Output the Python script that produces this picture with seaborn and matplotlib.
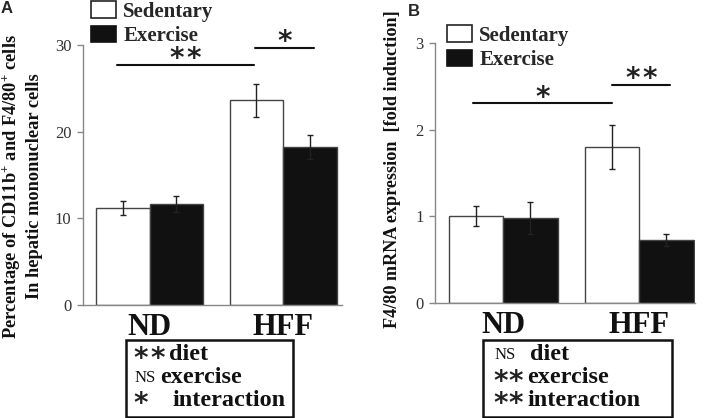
import numpy as np
import pandas as pd
import matplotlib
matplotlib.use("Agg")
import matplotlib.pyplot as plt
import matplotlib.transforms as mtransforms
import seaborn as sns
from matplotlib.patches import Patch, Rectangle

sns.set_theme(style="white")
plt.rcParams['font.family'] = ['Liberation Serif', 'DejaVu Sans']
plt.rcParams['mathtext.fontset'] = 'custom'
plt.rcParams['mathtext.rm'] = 'Liberation Serif'
plt.rcParams['mathtext.bf'] = 'Liberation Serif:bold'

# data
diets = ["ND", "HFF"]
groups = ["Sedentary", "Exercise"]

cells_mean = {"Sedentary": [11.2, 23.6], "Exercise": [11.65, 18.25]}
cells_err = {"Sedentary": [0.8, 1.9], "Exercise": [0.9, 1.4]}

mrna_mean = {"Sedentary": [1.0, 1.80], "Exercise": [0.98, 0.725]}
mrna_err = {"Sedentary": [0.115, 0.25], "Exercise": [0.19, 0.065]}

# significance brackets: (x0, x1, y, number of stars)
cells_sig = [(-0.24, 0.78, 27.7, 2), (0.79, 1.23, 29.7, 1)]
mrna_sig = [(-0.22, 0.80, 2.305, 1), (0.80, 1.23, 2.52, 2)]

# two-way ANOVA summary: (mark, term)
cells_stats = [("**", "diet"), ("NS", "exercise"), ("*", "interaction")]
mrna_stats = [("NS", "diet"), ("**", "exercise"), ("**", "interaction")]

cells_ylabel = ("Percentage of CD11b$^{\\mathbf{+}}$ and F4/80$^{\\mathbf{+}}$ cells\n"
                "In hepatic mononuclear cells")
mrna_ylabel = "F4/80 mRNA expression  [fold induction]"

W, H = 709, 418
fig = plt.figure(figsize=(W / 100, H / 100), dpi=100)

palette = {"Sedentary": "white", "Exercise": "#111111"}
STAR_SIZE = 20
STAR_EM = STAR_SIZE * 100 / 72.0


def fx(px):
    return px / W


def fy(py):
    return 1 - py / H


def stars(n, transform, x, y, spacing, dy_center):
    # draw n asterisks centred on x; glyph centre dy_center pixels above y
    base = dy_center - 0.47 * STAR_EM
    for k in range(n):
        dx = (k - (n - 1) / 2) * spacing
        tr = mtransforms.offset_copy(transform, fig, x=dx, y=base, units="dots")
        fig.text(x, y, "*", transform=tr, fontsize=STAR_SIZE,
                 family="DejaVu Sans", fontweight="bold", ha="center",
                 va="baseline", color="#222222")


def draw_panel(rect, means, errs, ylim, yticks, xmax, sig):
    ax = fig.add_axes(rect)
    df = pd.DataFrame({
        "diet": diets * 2,
        "group": [g for g in groups for _ in diets],
        "value": means["Sedentary"] + means["Exercise"],
    })
    sns.barplot(data=df, x="diet", y="value", hue="group", order=diets,
                hue_order=groups, palette=palette, edgecolor="#444444",
                linewidth=1, errorbar=None, width=0.8, legend=False, ax=ax)
    for cont, g in zip(ax.containers, groups):
        xs = [p.get_x() + p.get_width() / 2 for p in cont]
        ys = [p.get_height() for p in cont]
        ax.errorbar(xs, ys, yerr=errs[g], fmt="none", ecolor="#222222",
                    elinewidth=1, capsize=2.5, capthick=1)
    for x0, x1, y, n in sig:
        ax.plot([x0, x1], [y, y], color="#111111", lw=1.5, clip_on=False)
        stars(n, ax.transData, (x0 + x1) / 2, y, 17, 10.5)
    ax.set_ylim(*ylim)
    ax.set_xlim(-0.5, xmax)
    ax.set_yticks(yticks)
    ax.set_yticklabels([str(t) for t in yticks], fontsize=12, color="#333333")
    ax.set_xticks([0, 1])
    ax.set_xticklabels(diets, fontsize=22, fontweight="bold", color="#111111")
    ax.tick_params(axis="x", length=0, pad=6)
    ax.tick_params(axis="y", length=4, width=1, color="#888888", left=True, pad=4)
    for s in ["top", "right"]:
        ax.spines[s].set_visible(False)
    for s in ["left", "bottom"]:
        ax.spines[s].set_color("#888888")
        ax.spines[s].set_linewidth(1)
    ax.set_xlabel("")
    return ax


axA = draw_panel([fx(82.7), fy(305), fx(342 - 82.7), (305 - 45) / H],
                 cells_mean, cells_err, (0, 30), [0, 10, 20, 30], 1.44,
                 cells_sig)
axA.set_ylabel(cells_ylabel, fontsize=13.2, fontweight="bold",
               color="#111111", linespacing=1.26)
axA.yaxis.set_label_coords(-0.153, 0.457)

axB = draw_panel([fx(435), fy(302.7), fx(695 - 435), (302.7 - 43.3) / H],
                 mrna_mean, mrna_err, (0, 3), [0, 1, 2, 3], 1.41,
                 mrna_sig)
axB.set_ylabel(mrna_ylabel, fontsize=13.1, fontweight="bold", color="#111111")
axB.yaxis.set_label_coords(-0.13, 0.515)

handles = [Patch(facecolor="white", edgecolor="#222222", lw=1.2),
           Patch(facecolor="#111111", edgecolor="#111111", lw=1.2)]
for x0, y0 in [(91, 1), (447, 25)]:
    fig.legend(handles, groups, loc="upper left",
               bbox_to_anchor=(fx(x0), fy(y0)), frameon=False,
               prop={"weight": "bold", "size": 15}, handlelength=1.2,
               handleheight=0.85, handletextpad=0.35, labelspacing=0.2,
               borderpad=0, borderaxespad=0)


def stats_box(x0, x1, mark_x, word_xs, star_gap, stats):
    fig.patches.append(Rectangle((fx(x0), fy(417)), fx(x1 - x0), (417 - 340) / H,
                                 transform=fig.transFigure, fill=False,
                                 edgecolor="#111111", lw=1.8))
    for i, (mark, word) in enumerate(stats):
        yc = 355 + i * 22.5
        if mark == "NS":
            fig.text(fx(mark_x), fy(yc), "NS", fontsize=12, va="center",
                     ha="left", color="#111111")
        else:
            n = len(mark)
            cx = mark_x + 6 + (n - 1) * star_gap / 2
            stars(n, fig.transFigure, fx(cx), fy(yc), star_gap, 1)
        fig.text(fx(word_xs[i]), fy(yc), word, fontsize=17.5, fontweight="bold",
                 va="center", ha="left", color="#111111")


stats_box(126, 293, 135, [169, 160, 172], 17, cells_stats)
stats_box(483, 672, 495, [530, 527, 527], 14.5, mrna_stats)

fig.text(fx(1), fy(1), "A", fontsize=12, fontweight="bold", va="top",
         ha="left", family="Liberation Sans")
fig.text(fx(408), fy(4), "B", fontsize=12, fontweight="bold", va="top",
         ha="left", family="Liberation Sans")

fig.savefig("out.png", dpi=100)
